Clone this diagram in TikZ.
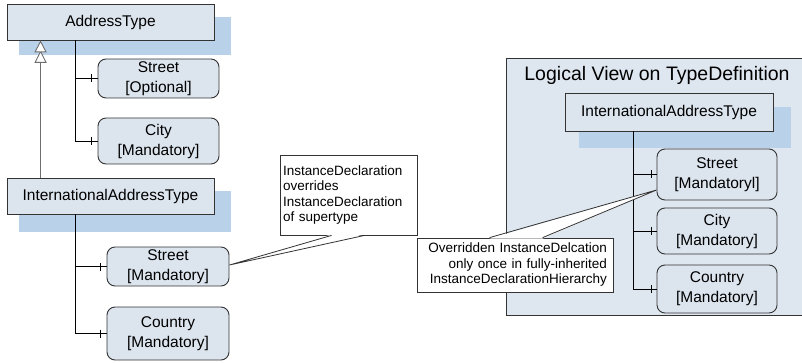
\documentclass[tikz,border=0pt]{standalone}
\usepackage{fontspec}
\setmainfont{Liberation Sans}
\usetikzlibrary{calc}
\definecolor{boxfill}{HTML}{DCE4EE}
\definecolor{shadowc}{HTML}{B9D1E9}
\definecolor{panelc}{HTML}{DEE6EF}
\definecolor{edge}{HTML}{333333}
\definecolor{inhc}{HTML}{6E6E6E}
\begin{document}
\begin{tikzpicture}[x=1pt,y=-1pt,
 typebox/.style={draw=edge,fill=boxfill,line width=0.9pt,inner sep=0pt,font=\fontsize{15.5}{19}\selectfont},
 shadowbox/.style={fill=shadowc,inner sep=0pt},
 propbox/.style={draw=edge,fill=boxfill,line width=0.9pt,rounded corners=8pt,inner sep=0pt,align=center,font=\fontsize{15.5}{20}\selectfont},
 conn/.style={line width=0.8pt,draw=black},
 tickmark/.style={line width=0.7pt,draw=black},
 note/.style={draw=edge,fill=white,line width=0.8pt,inner ysep=0pt,font=\fontsize{13.5}{15.5}\selectfont},
 inh/.style={line width=0.9pt,draw=inhc}]
\useasboundingbox (0,0) rectangle (802,363);

% ---------- right panel ----------
\fill[panelc] (506,58) rectangle (805,315);
\draw[edge,line width=0.9pt] (805,58) -- (506,58) -- (506,315) -- (805,315);
\node[font=\fontsize{19.5}{22}\selectfont] (title) at (657,75) {Logical View on TypeDefinition};

% ---------- shadows ----------
\node[shadowbox,minimum width=212pt,minimum height=38pt] (atsh) at (125,36) {};
\node[shadowbox,minimum width=212pt,minimum height=41pt] (iatsh) at (125,211.5) {};
\node[shadowbox,minimum width=212pt,minimum height=41pt] (riatsh) at (685,127.5) {};

% ---------- left: AddressType ----------
\node[typebox,minimum width=207pt,minimum height=36pt] (at) at (110.5,22) {AddressType};
\node[propbox,minimum width=121pt,minimum height=39pt] (ats) at (158.5,78.5) {Street\\{}[Optional]};
\node[propbox,minimum width=121pt,minimum height=46pt] (atc) at (158.5,141) {City\\{}[Mandatory]};
\coordinate (atv) at ($(at.south west)+(69,0)$);
\draw[conn] (atv) |- (ats.west);
\draw[conn] (atv) |- (atc.west);
\draw[tickmark] ([xshift=-6pt]ats.west) ++(0,-4) -- ++(0,8);
\draw[tickmark] ([xshift=-6pt]atc.west) ++(0,-4) -- ++(0,8);

% ---------- left: InternationalAddressType ----------
\node[typebox,minimum width=207pt,minimum height=36pt] (iat) at (110.5,196) {InternationalAddressType};
\node[propbox,minimum width=122pt,minimum height=39pt] (iats) at (168,266.5) {Street\\{}[Mandatory]};
\node[propbox,minimum width=122pt,minimum height=53pt] (iatc) at (168,333.5) {Country\\{}[Mandatory]};
\coordinate (iatv) at ($(iat.south west)+(69,0)$);
\draw[conn] (iatv) |- (iats.west);
\draw[conn] (iatv) |- (iatc.west);
\draw[tickmark] ([xshift=-6pt]iats.west) ++(0,-4) -- ++(0,8);
\draw[tickmark] ([xshift=-6pt]iatc.west) ++(0,-4) -- ++(0,8);

% ---------- inheritance ----------
\coordinate (inhtop) at ($(at.south west)+(34,0)$);
\coordinate (inhbot) at ($(iat.north west)+(34,0)$);
\draw[inh] (inhbot) -- ($(inhtop)+(0,22)$);
\draw[inh,fill=white] ($(inhtop)+(0,11)$) -- ++(-5.5,11) -- ++(11,0) -- cycle;
\draw[inh,fill=white] ($(inhtop)+(0,1)$) -- ++(-5.5,10.5) -- ++(11,0) -- cycle;

% ---------- right: InternationalAddressType ----------
\node[typebox,minimum width=208pt,minimum height=38pt] (riat) at (669,112) {InternationalAddressType};
\node[propbox,minimum width=120pt,minimum height=51pt] (rs) at (717,174.5) {Street\\{}[Mandatoryl]};
\node[propbox,minimum width=120pt,minimum height=46pt] (rc) at (717,231) {City\\{}[Mandatory]};
\node[propbox,minimum width=120pt,minimum height=48pt] (rco) at (717,289) {Country\\{}[Mandatory]};
\coordinate (riatv) at ($(riat.south west)+(69,0)$);
\draw[conn] (riatv) |- (rs.west);
\draw[conn] (riatv) |- (rc.west);
\draw[conn] (riatv) |- (rco.west);
\draw[tickmark] ([xshift=-5pt]rs.west) ++(0,-4) -- ++(0,8);
\draw[tickmark] ([xshift=-5pt]rc.west) ++(0,-4) -- ++(0,8);
\draw[tickmark] ([xshift=-5pt]rco.west) ++(0,-4) -- ++(0,8);

% ---------- callout 1 ----------
\node[note,text width=131pt,inner xsep=3pt,minimum height=80pt,align=left] (co1) at (348.5,195)
 {InstanceDeclaration\\overrides\\InstanceDeclaration\\of supertype};
\coordinate (tip1) at ($(iats.east)+(0,-1.5)$);
\fill[white] (tip1) -- ($(co1.south west)+(52,-1)$) -- ($(co1.south west)+(85,-1)$) -- cycle;
\draw[edge,line width=0.8pt] ($(co1.south west)+(52,0)$) -- (tip1) -- ($(co1.south west)+(85,0)$);

% ---------- callout 2 ----------
\node[note,text width=184pt,inner xsep=6pt,minimum height=54pt,align=right] (co2) at (515,265)
 {Overridden InstanceDelcation\\only once in fully-inherited\\InstanceDeclarationHierarchy};
\coordinate (tip2) at ($(rs.west)+(0,15.5)$);
\fill[white] (tip2) -- ($(co2.north west)+(73,1)$) -- ($(co2.north west)+(126,1)$) -- cycle;
\draw[edge,line width=0.8pt] ($(co2.north west)+(73,0)$) -- (tip2) -- ($(co2.north west)+(126,0)$);
\end{tikzpicture}
\end{document}
